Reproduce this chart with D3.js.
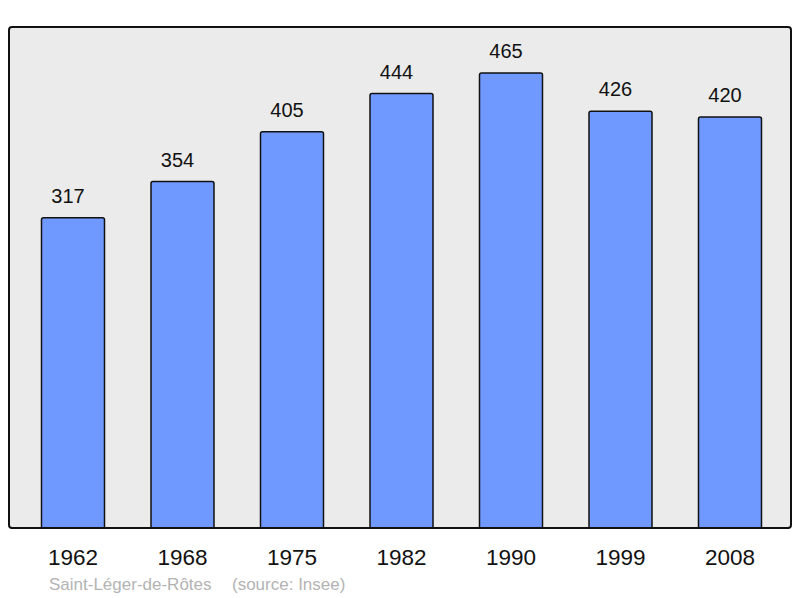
<!DOCTYPE html>
<html><head><meta charset="utf-8">
<script src="https://cdn.jsdelivr.net/npm/d3@7"></script>
<style>body{margin:0;background:#fff}svg{display:block}text{font-family:"Liberation Sans",Arial,sans-serif}</style>
</head><body>
<script>
const years = ["1962","1968","1975","1982","1990","1999","2008"];
const population = [317,354,405,444,465,426,420];
const placeName = "Saint-Léger-de-Rôtes";
const sourceText = "(source: Insee)";

const W = 800, H = 598;
const svg = d3.select("body").append("svg").attr("width", W).attr("height", H);

const frame = {x0: 9, x1: 791, y0: 27, y1: 528};
const x = d3.scaleBand().domain(years).range([18.25, 784.75]).paddingInner(0.4247).paddingOuter(0.21235);
const y = d3.scaleLinear().domain([0, 512]).range([frame.y1, frame.y0]);

svg.append("rect").attr("x", frame.x0).attr("y", frame.y0)
  .attr("width", frame.x1 - frame.x0).attr("height", frame.y1 - frame.y0)
  .attr("rx", 3).attr("fill", "#ebebeb").attr("stroke", "none");

const data = years.map((yr, i) => ({yr, v: population[i]}));

svg.selectAll("rect.bar").data(data).enter().append("rect").attr("class", "bar")
  .attr("x", d => x(d.yr)).attr("y", d => y(d.v))
  .attr("width", x.bandwidth()).attr("height", d => y(0) - y(d.v) + 3)
  .attr("rx", 2).attr("fill", "#7099ff").attr("stroke", "#111").attr("stroke-width", 1.5);

svg.append("rect").attr("x", frame.x0).attr("y", frame.y0)
  .attr("width", frame.x1 - frame.x0).attr("height", frame.y1 - frame.y0)
  .attr("rx", 3).attr("fill", "none").attr("stroke", "#111").attr("stroke-width", 2);

svg.append("rect").attr("x", 0).attr("y", frame.y1 + 1).attr("width", W).attr("height", 5).attr("fill", "#fff");
svg.append("line").attr("x1", frame.x0 + 2).attr("x2", frame.x1 - 2).attr("y1", frame.y1).attr("y2", frame.y1)
  .attr("stroke", "#111").attr("stroke-width", 2);

svg.selectAll("text.val").data(data).enter().append("text").attr("class", "val")
  .attr("x", d => x(d.yr) + x.bandwidth() / 2 - 5).attr("y", d => y(d.v) - 15)
  .attr("text-anchor", "middle").attr("font-size", 20).attr("fill", "#111").text(d => d.v);

const xAxis = svg.append("g").attr("transform", `translate(0,${frame.y1})`)
  .call(d3.axisBottom(x).tickSize(0).tickPadding(0));
xAxis.select(".domain").remove();
xAxis.selectAll("text").attr("font-size", 22.5).attr("fill", "#111")
  .attr("font-family", '"Liberation Sans",Arial,sans-serif').attr("dy", null).attr("y", 37);

svg.append("text").attr("x", 49).attr("y", 590).attr("font-size", 17).attr("fill", "#b3b3b3").text(placeName);
svg.append("text").attr("x", 232).attr("y", 590).attr("font-size", 17).attr("fill", "#b3b3b3").text(sourceText);
</script>
</body></html>
